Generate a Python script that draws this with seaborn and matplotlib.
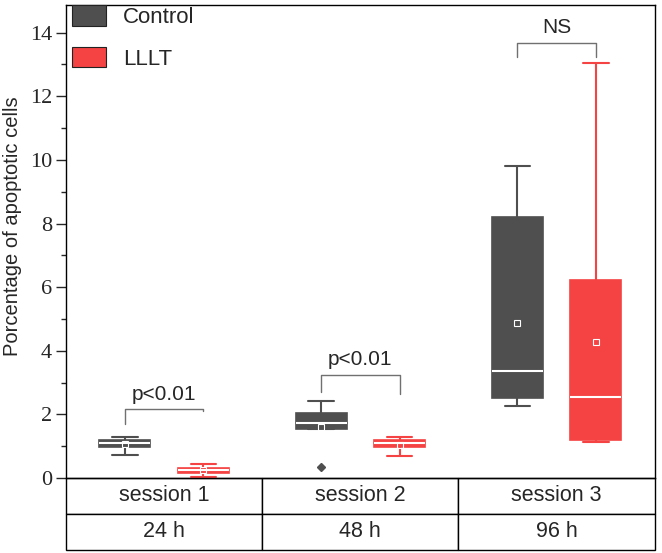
import matplotlib
matplotlib.use("Agg")
import matplotlib.pyplot as plt
from matplotlib.patches import Patch
from matplotlib.ticker import MultipleLocator
import seaborn as sns
import pandas as pd

# categories
sessions = ["session 1", "session 2", "session 3"]
hours = ["24 h", "48 h", "96 h"]
groups = ["Control", "LLLT"]
colors = ["#4f4f4f", "#f54343"]

# values (percentage of apoptotic cells)
control_s1 = [0.72, 0.97, 1.10, 1.19, 1.29]
lllt_s1 = [0.03, 0.16, 0.25, 0.31, 0.44]
control_s2 = [0.35, 1.54, 1.73, 2.04, 2.42]
lllt_s2 = [0.69, 0.97, 1.10, 1.19, 1.29]
control_s3 = [2.26, 2.40, 2.51, 2.90, 3.37, 3.87, 8.21, 8.50, 9.81]
lllt_s3 = [1.13, 1.16, 1.19, 1.80, 2.55, 4.91, 6.23, 6.50, 13.05]

# significance brackets
sig_labels = ["p<0.01", "p<0.01", "NS"]
sig_tops = [2.17, 3.24, 13.68]
sig_left = [1.70, 2.70, 13.24]
sig_right = [2.12, 2.65, 13.24]

rows = []
for s, c, l in zip(sessions, [control_s1, control_s2, control_s3], [lllt_s1, lllt_s2, lllt_s3]):
    rows += [(s, "Control", v) for v in c]
    rows += [(s, "LLLT", v) for v in l]
df = pd.DataFrame(rows, columns=["session", "group", "value"])

sns.set_style("white")
fig = plt.figure(figsize=(6.62, 5.53), dpi=100)
ax = fig.add_axes([0.0997, 0.1356, 0.8893, 0.8554])

sns.boxplot(data=df, x="session", y="value", hue="group", order=sessions, hue_order=groups,
            palette=colors, width=0.8, gap=0.35, whis=1.5, showmeans=True,
            meanprops=dict(marker="s", markerfacecolor="none", markeredgecolor="white",
                           markersize=4, markeredgewidth=0.8),
            flierprops=dict(marker="D", markersize=4), linewidth=1.2, ax=ax, legend=False)

# colour whiskers/caps like the boxes, white medians
for cont, col in zip(ax.containers, colors):
    for b in cont.boxes:
        b.set_facecolor(col)
        b.set_edgecolor(col)
    for ln in list(cont.whiskers) + list(cont.caps):
        ln.set_color(col)
        ln.set_linewidth(1.5)
    for m in cont.medians:
        m.set_color("white")
        m.set_linewidth(1.5)
    for f in cont.fliers:
        f.set_markerfacecolor(col)
        f.set_markeredgecolor(col)

# brackets
for i, (lab, top, lb, rb) in enumerate(zip(sig_labels, sig_tops, sig_left, sig_right)):
    x0, x1 = i - 0.2, i + 0.2
    ax.plot([x0, x0, x1, x1], [lb, top, top, rb], color="#707070", lw=1)
    ax.text(i, top + 0.47, lab, ha="center", va="center", fontsize=15,
            family="Liberation Sans")

ax.set_xlim(-0.5, 2.5)
ax.set_ylim(0, 14.87)
ax.yaxis.set_major_locator(MultipleLocator(2))
ax.yaxis.set_minor_locator(MultipleLocator(1))
ax.tick_params(axis="y", which="major", direction="out", length=7, width=1, left=True,
               labelsize=16, pad=3, labelfontfamily="Liberation Serif")
ax.tick_params(axis="y", which="minor", direction="out", length=3.5, width=1, left=True)
ax.set_xticks([])
ax.set_xlabel("")
ax.set_ylabel("Porcentage of apoptotic cells", fontsize=14.5, family="Liberation Sans")
ax.yaxis.set_label_coords(-0.074, 0.533)
for sp in ax.spines.values():
    sp.set_visible(True)
    sp.set_color("black")
    sp.set_linewidth(1)

tbl = ax.table(cellText=[sessions, hours], cellLoc="center", bbox=[0, -0.152, 1, 0.152])
tbl.auto_set_font_size(False)
for cell in tbl.get_celld().values():
    cell.set_linewidth(1)
    cell.set_edgecolor("black")
    cell.get_text().set_fontsize(15.5)
    cell.get_text().set_family("Liberation Sans")

handles = [Patch(facecolor=c, edgecolor="#222222", lw=0.8, label=g) for c, g in zip(colors, groups)]
ax.legend(handles=handles, loc="upper left", bbox_to_anchor=(0.003, 1.009), frameon=False,
          prop=dict(family="Liberation Sans", size=16), handlelength=1.53, handleheight=1.04,
          labelspacing=0.85, handletextpad=0.77, borderpad=0.2, borderaxespad=0.0)

fig.savefig("out.png", dpi=100)
